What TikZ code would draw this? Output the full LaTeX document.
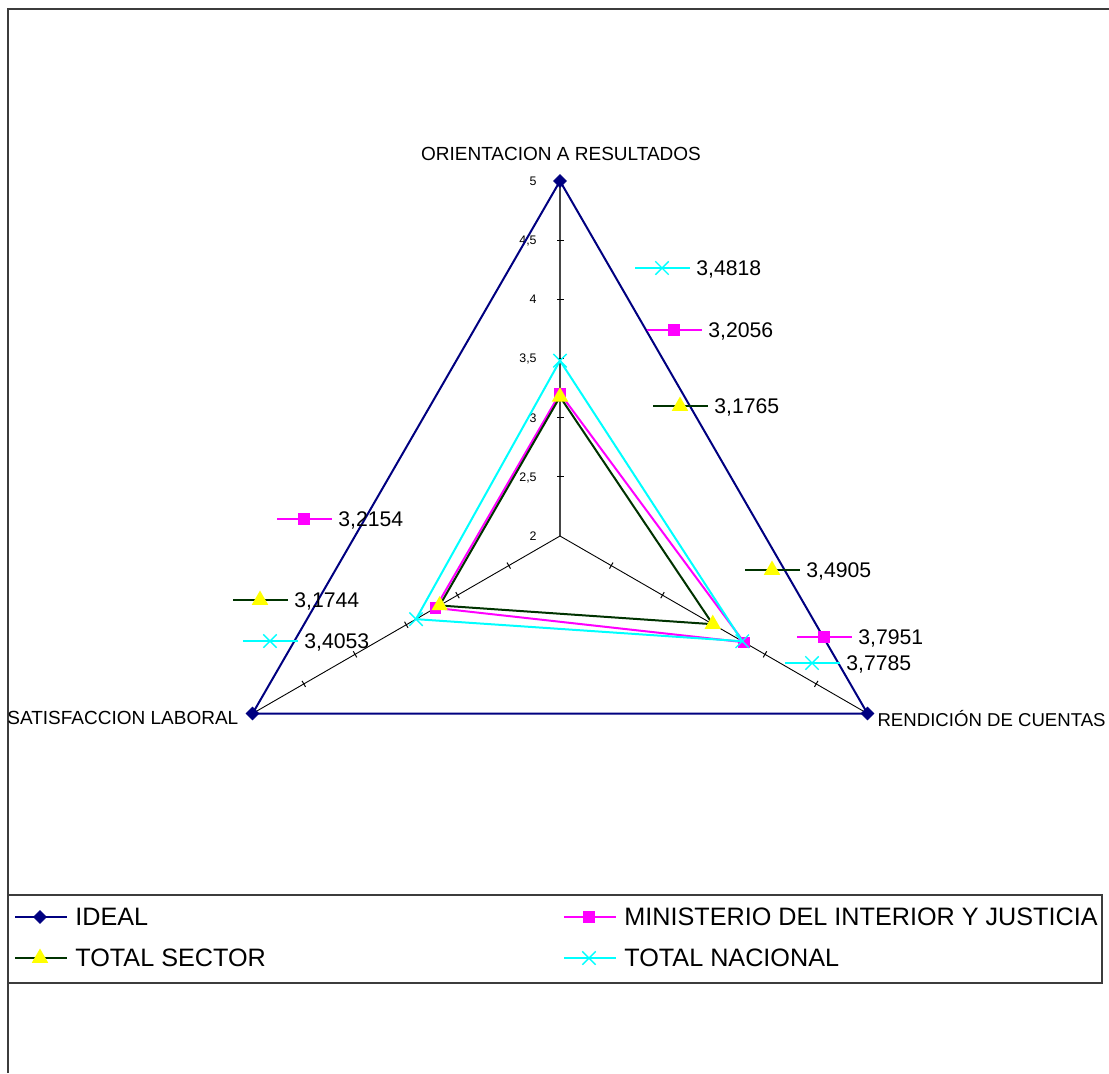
\documentclass[tikz,border=0pt]{standalone}
\usepackage{fontspec}
\setmainfont{Liberation Sans}
\usetikzlibrary{shapes.geometric,shapes.misc,calc}
\definecolor{navyc}{RGB}{0,0,128}
\definecolor{magc}{RGB}{255,0,255}
\definecolor{grnc}{RGB}{0,51,0}
\definecolor{yelc}{RGB}{255,255,0}
\definecolor{cyac}{RGB}{0,255,255}
\definecolor{framec}{RGB}{60,60,60}
\definecolor{axgray}{RGB}{70,70,70}
\newcommand{\datakey}[6]{%
  \coordinate (#1a) at (#4,#5);
  \coordinate (#1b) at ({#4+55},#5);
  \draw[#2] (#1a) -- (#1b);
  \node[#3] (#1m) at ({#4+27},#5) {};
  \node[vallbl] (#1t) at ({#4+61},#5) {#6};}
\newcommand{\legkey}[6]{%
  \coordinate (#1a) at (#4,#5);
  \coordinate (#1b) at ({#4+52},#5);
  \draw[#2] (#1a) -- (#1b);
  \node[#3] (#1m) at ({#4+25},#5) {};
  \node[leglbl] (#1t) at ({#4+60},#5) {#6};}
\begin{document}
\begin{tikzpicture}[x=0.5pt,y=-0.5pt,
  mkdia/.style={diamond,fill=navyc,draw=navyc,inner sep=0pt,minimum size=6.5pt},
  mksq/.style={rectangle,fill=magc,inner sep=0pt,minimum size=5.7pt},
  mktri/.style={regular polygon,regular polygon sides=3,fill=yelc,inner sep=0pt,minimum size=9.5pt},
  mkx/.style={cross out,draw=cyac,line width=0.7pt,inner sep=0pt,minimum size=6pt},
  ideal/.style={draw=navyc,line width=1pt},
  mij/.style={draw=magc,line width=1pt},
  sec/.style={draw=grnc,line width=1pt},
  nac/.style={draw=cyac,line width=1pt},
  axisl/.style={draw=black,line width=0.45pt},
  tickl/.style={draw=black,line width=0.5pt},
  vallbl/.style={font=\fontsize{10.6}{12}\selectfont,anchor=west,inner sep=0pt,text depth=0pt},
  axlbl/.style={font=\fontsize{9.5}{11}\selectfont,inner sep=0pt,text depth=0pt},
  ticklbl/.style={font=\fontsize{6.2}{7}\selectfont,anchor=east,inner sep=0pt,text depth=0pt},
  leglbl/.style={font=\fontsize{12.6}{14}\selectfont,anchor=west,inner sep=0pt,text depth=0pt},
]
\useasboundingbox (0,0) rectangle (1109,1073);
\fill[white] (0,0) rectangle (1109,1073);
% outer frame
\draw[framec,line width=1pt] (8,1073) -- (8,9) -- (1109,9);

\begin{scope}[shift={(560,536)}]
  \coordinate (C) at (0,0);
  % ideal vertices
  \coordinate (i1) at (-90:355);
  \coordinate (i2) at (30:355);
  \coordinate (i3) at (150:355);
  % axes
  \draw[axisl,draw=axgray,line width=0.75pt] (C) -- (i1);
  \draw[axisl] (C) -- (i2);
  \draw[axisl] (C) -- (i3);
  % ticks
  \foreach \a in {-90,30,150}{
    \foreach \k in {1,...,5}{
      \pgfmathsetmacro{\rr}{\k*59.1667}
      \pgfmathsetmacro{\ap}{\a+90}
      \pgfmathsetmacro{\am}{\a-90}
      \draw[tickl] ($(\a:\rr)+(\ap:3.5)$) -- ($(\a:\rr)+(\am:3.5)$);
    }
  }
  % tick labels
  \foreach \v/\t in {0/2,1/{2,5},2/3,3/{3,5},4/4,5/{4,5},6/5}{
    \node[ticklbl] (tl\v) at (-23,{-\v*59.1667}) {\t};
  }
  % data points
  \coordinate (m1) at (-90:{1.2056*118.333});
  \coordinate (m2) at (30:{1.7951*118.333});
  \coordinate (m3) at (150:{1.2154*118.333});
  \coordinate (s1) at (-90:{1.1765*118.333});
  \coordinate (s2) at (30:{1.4905*118.333});
  \coordinate (s3) at (150:{1.1744*118.333});
  \coordinate (n1) at (-90:{1.4818*118.333});
  \coordinate (n2) at (30:{1.7785*118.333});
  \coordinate (n3) at (150:{1.4053*118.333});
\end{scope}

% series
\draw[ideal] (i1) -- (i2) -- (i3) -- cycle;
\foreach \p in {i1,i2,i3} \node[mkdia] at (\p) {};
\draw[mij] (m1) -- (m2) -- (m3) -- cycle;
\foreach \p in {m1,m2,m3} \node[mksq] at (\p) {};
\draw[sec] (s1) -- (s2) -- (s3) -- cycle;
\foreach \p in {s1,s2,s3} \node[mktri] at (\p) {};
\draw[nac] (n1) -- (n2) -- (n3) -- cycle;
\foreach \p in {n1,n2,n3} \node[mkx] at (\p) {};

% axis labels
\node[axlbl] (ax1) at (561,154) {ORIENTACION A RESULTADOS};
\node[axlbl,anchor=west] (ax3) at (7,718) {SATISFACCION LABORAL};
\node[axlbl,anchor=east,font=\fontsize{9.3}{11}\selectfont] (ax2) at (1106,718) {RENDICIÓN DE CUENTAS};

% data labels
\datakey{dn1}{nac}{mkx}{635}{268}{3,4818}
\datakey{dm1}{mij}{mksq}{647}{330}{3,2056}
\datakey{ds1}{sec}{mktri}{653}{406}{3,1765}
\datakey{ds2}{sec}{mktri}{745}{570}{3,4905}
\datakey{dm2}{mij}{mksq}{797}{637}{3,7951}
\datakey{dn2}{nac}{mkx}{785}{663}{3,7785}
\datakey{dm3}{mij}{mksq}{277}{519}{3,2154}
\datakey{ds3}{sec}{mktri}{233}{600}{3,1744}
\datakey{dn3}{nac}{mkx}{243}{641}{3,4053}

% legend
\draw[framec,line width=0.8pt] (8,895) rectangle (1102,983);
\legkey{lg1}{ideal}{mkdia}{15}{917}{IDEAL}
\legkey{lg2}{mij}{mksq}{564}{917}{MINISTERIO DEL INTERIOR Y JUSTICIA}
\legkey{lg3}{sec}{mktri}{15}{958}{TOTAL SECTOR}
\legkey{lg4}{nac}{mkx}{564}{958}{TOTAL NACIONAL}
\end{tikzpicture}
\end{document}
